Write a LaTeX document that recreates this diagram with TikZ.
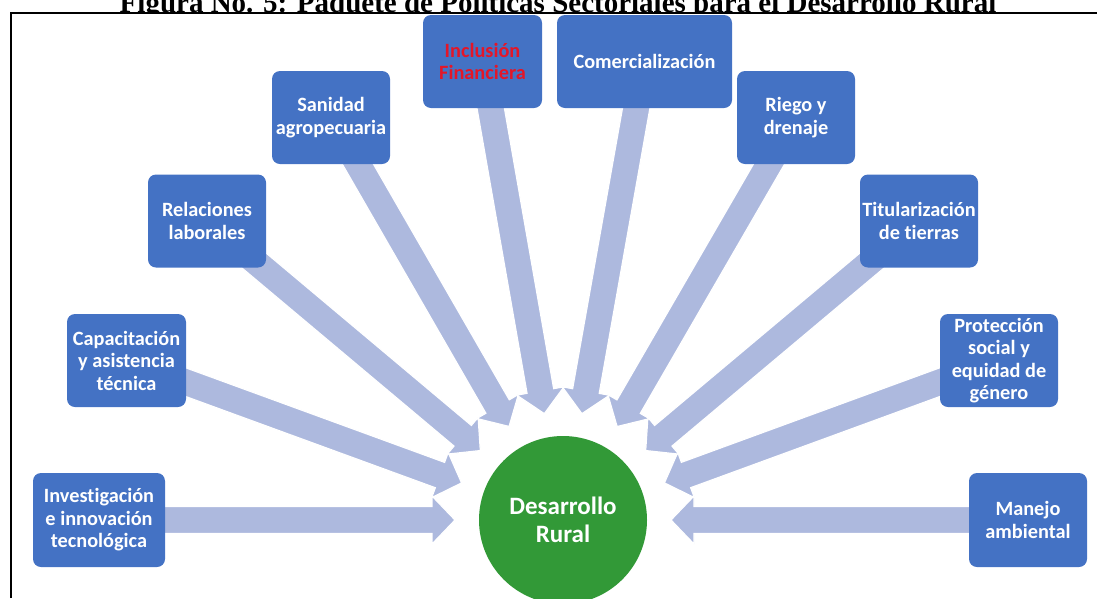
\documentclass[tikz,border=0pt]{standalone}
\usepackage{fontspec}
\newfontfamily\calfont[Ligatures={NoCommon}]{Carlito}
\newfontfamily\tmsfont{Liberation Serif}
\usetikzlibrary{calc}
\pgfdeclarelayer{bg}
\pgfsetlayers{bg,main}
\definecolor{boxblue}{RGB}{68,114,196}
\definecolor{arrowblue}{RGB}{173,185,222}
\definecolor{circgreen}{RGB}{50,153,55}
\definecolor{redtxt}{RGB}{228,22,40}
\tikzset{
  policy/.style={fill=boxblue, rounded corners=8pt, minimum width=118pt, minimum height=93pt,
    inner sep=0pt, align=center, text=white, font=\calfont\bfseries\fontsize{20.3}{22.5}\selectfont},
  bigarrow/.style={fill=arrowblue, draw=white, line width=1.2pt, line join=miter},
  goal/.style={circle, fill=circgreen, minimum size=168pt, inner sep=0pt, align=center,
    text=white, font=\calfont\bfseries\fontsize{25}{28}\selectfont},
  frameline/.style={line width=1.5pt, black},
  titletext/.style={anchor=base, inner sep=0pt, font=\tmsfont\bfseries\fontsize{29}{30}\selectfont}
}
\newcommand\policyarrow[2]{%
  \path ($(#2.center)!108pt!(#1.center)$) coordinate (tipA)
        ($(tipA)!23pt!(#1.center)$) coordinate (baseA);
  \filldraw[bigarrow] ($(#1.center)!13.5pt!90:(tipA)$) -- ($(baseA)!13.5pt!90:(tipA)$)
    -- ($(baseA)!24pt!90:(tipA)$) -- (tipA) -- ($(baseA)!24pt!-90:(tipA)$)
    -- ($(baseA)!13.5pt!-90:(tipA)$) -- ($(#1.center)!13.5pt!-90:(tipA)$) -- cycle;
}
\begin{document}
\begin{tikzpicture}[x=1pt,y=-1pt]
\useasboundingbox (0,0) rectangle (1097,598);
\begin{scope}
  \clip (0,0) rectangle (1097,12.5);
  \node[titletext] (title) at (558,12) {Figura No. 5: Paquete de Políticas Sectoriales para el Desarrollo Rural};
\end{scope}
\draw[frameline] (11,598) -- (11,13) -- (1097,13);

\node[policy, minimum width=132pt, minimum height=94pt] (b1) at (99,520) {Investigación\\e innovación\\tecnológica};
\node[policy, minimum width=119pt] (b2) at (126.5,360.5) {Capacitación\\y asistencia\\técnica};
\node[policy] (b3) at (207,221) {Relaciones\\laborales};
\node[policy] (b4) at (331,117.5) {Sanidad\\agropecuaria};
\node[policy, minimum width=119pt, text=redtxt] (b5) at (482.5,61.5) {Inclusión\\Financiera};
\node[policy, minimum width=175pt] (b6) at (644.5,61.5) {Comercialización};
\node[policy] (b7) at (796,117.5) {Riego y\\drenaje};
\node[policy] (b8) at (919,221) {Titularización\\de tierras};
\node[policy] (b9) at (999,360.5) {Protección\\social y\\equidad de\\género};
\node[policy, minimum height=94pt] (b10) at (1028,520) {Manejo\\ambiental};

\node[goal] (dr) at (563,520) {Desarrollo\\Rural};

\begin{pgfonlayer}{bg}
  \foreach \b in {b1,b2,b3,b4,b5,b10,b9,b8,b7,b6}{\policyarrow{\b}{dr}}
\end{pgfonlayer}
\end{tikzpicture}
\end{document}
